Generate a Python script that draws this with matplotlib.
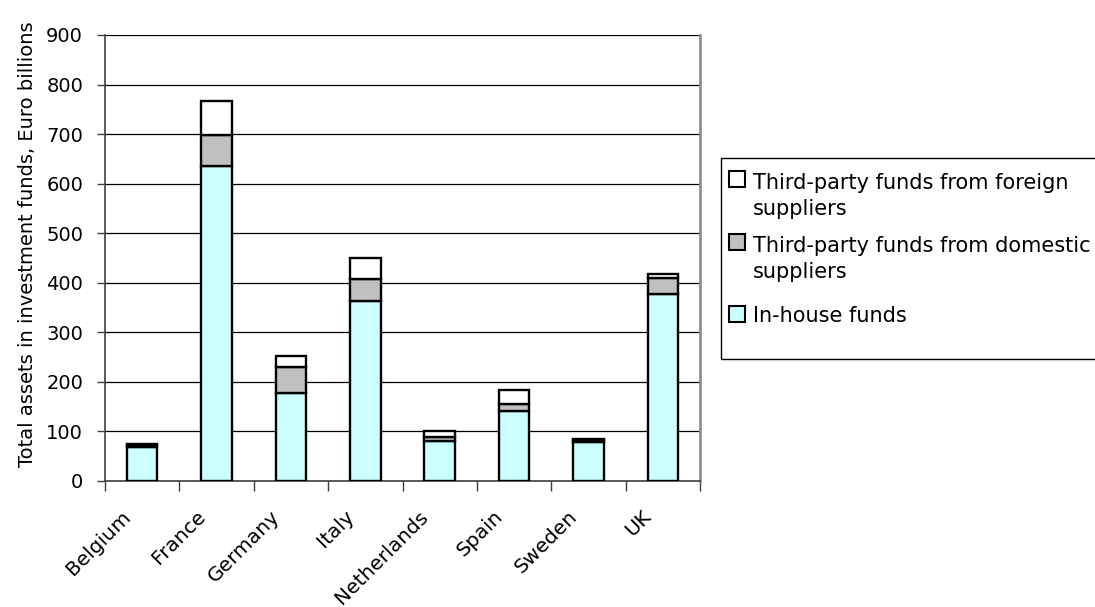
import numpy as np
import matplotlib.pyplot as plt
from matplotlib.patches import Rectangle
import matplotlib.transforms as mtransforms

countries = ["Belgium", "France", "Germany", "Italy", "Netherlands", "Spain", "Sweden", "UK"]
in_house = [68, 636, 177, 364, 81, 142, 78, 378]
domestic = [4, 62, 54, 44, 8, 13, 4, 32]
foreign = [3, 68, 22, 42, 12, 28, 2, 7]

series_names = ["Third-party funds from foreign\nsuppliers",
                "Third-party funds from domestic\nsuppliers",
                "In-house funds"]
series_colors = ["white", "#C0C0C0", "#CCFFFF"]

plt.rcParams['font.family'] = 'DejaVu Sans'

W, H = 1095, 607
fig = plt.figure(figsize=(W / 100, H / 100), dpi=100)
ax = fig.add_axes([105 / W, 1 - 481 / H, 595 / W, 446 / H])

x = np.arange(len(countries))
w = 0.41
lw = 1.7
ax.bar(x, in_house, w, color="#CCFFFF", edgecolor="black", linewidth=lw, zorder=3)
ax.bar(x, domestic, w, bottom=in_house, color="#C0C0C0", edgecolor="black", linewidth=lw, zorder=3)
bottom2 = np.array(in_house) + np.array(domestic)
ax.bar(x, foreign, w, bottom=bottom2, color="white", edgecolor="black", linewidth=lw, zorder=3)

ax.set_ylim(0, 900)
ax.set_xlim(-0.5, 7.5)
ax.set_yticks(range(0, 901, 100))
ax.yaxis.grid(True, color="black", linewidth=0.9, zorder=0)
ax.tick_params(axis="y", labelsize=14, length=5.8, width=1, direction="out", color="#404040", pad=10)

ax.set_xticks(x)
ax.set_xticks(np.arange(-0.5, 8, 1), minor=True)
ax.tick_params(axis="x", which="major", length=0, pad=0)
ax.tick_params(axis="x", which="minor", length=7, width=1, color="#404040")
labels = ax.set_xticklabels(countries, rotation=45, ha="right", va="top",
                            rotation_mode="anchor", fontsize=14.5)
offset = mtransforms.ScaledTranslation(-0.21, -0.26, fig.dpi_scale_trans)
for lab in labels:
    lab.set_transform(lab.get_transform() + offset)

for side in ["left", "bottom"]:
    ax.spines[side].set_color("#404040")
    ax.spines[side].set_linewidth(1.2)
ax.spines["right"].set_color("#909090")
ax.spines["right"].set_linewidth(2)
ax.spines["top"].set_visible(False)

ax.set_ylabel("Total assets in investment funds, Euro billions", fontsize=14)
ax.yaxis.set_label_coords(-68 / 595, 0.53)

# legend box (runs off the right edge like the original)
box = Rectangle((721 / W, 1 - 359 / H), 400 / W, 201 / H, transform=fig.transFigure,
                facecolor="white", edgecolor="black", linewidth=1, clip_on=False)
fig.patches.append(box)
baselines = [187, 250, 322]
for name, col, base in zip(series_names, series_colors, baselines):
    fig.patches.append(Rectangle((729 / W, 1 - base / H), 16 / W, 16 / H, transform=fig.transFigure,
                                 facecolor=col, edgecolor="black", linewidth=1.5))
    n_lines = name.count("\n")
    fig.text(753 / W, 1 - (base + 28 * n_lines) / H, name, fontsize=15, va="baseline",
             ha="left", linespacing=1.35)

fig.savefig("out.png", dpi=100)
